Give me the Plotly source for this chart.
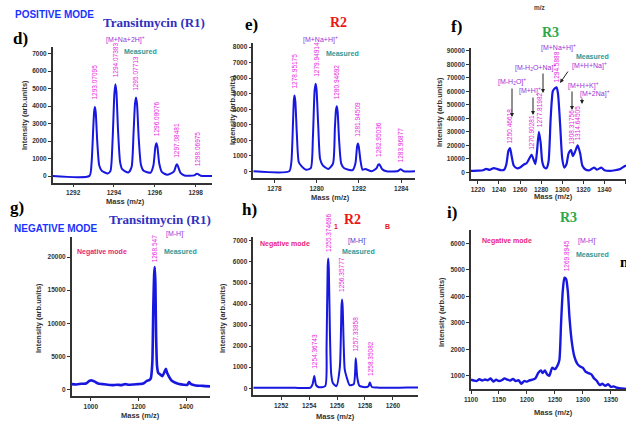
import plotly.graph_objects as go

W, H = 626, 422

# ---------------- data ----------------
# d) positive mode R1
d_mass = [1291.0, 1292.8, 1292.9, 1292.98, 1293.03, 1293.07, 1293.11, 1293.18, 1293.28, 1293.4, 1293.7, 1293.83,
          1293.93, 1294.02, 1294.07, 1294.12, 1294.2, 1294.3, 1294.4, 1294.7, 1294.86, 1294.96, 1295.03, 1295.08,
          1295.13, 1295.21, 1295.32, 1295.45, 1295.8, 1295.93, 1296.03, 1296.08, 1296.13, 1296.22, 1296.35,
          1296.6, 1296.93, 1297.04, 1297.08, 1297.13, 1297.25, 1297.45, 1297.93, 1298.03, 1298.07, 1298.12,
          1298.25, 1298.8]
d_int = [0, 10, 700, 2600, 3700, 3950, 3600, 2000, 600, 300, 150, 300,
         2000, 4700, 5250, 4800, 2600, 800, 400, 200, 500, 2500, 4150, 4500,
         4100, 2200, 650, 300, 200, 600, 1700, 1880, 1650, 700, 220,
         80, 250, 600, 670, 580, 200, 30, 40, 120, 130, 110, 20, 10]
d_peaks = [1293.07095, 1294.07383, 1295.07713, 1296.08076, 1297.08481, 1298.06975]
d_peak_int = [3950, 5250, 4500, 1880, 670, 130]

# e) positive mode R2
e_mass = [1277.0, 1278.7, 1278.8, 1278.88, 1278.92, 1278.95, 1278.99, 1279.06, 1279.15, 1279.27, 1279.5, 1279.72,
          1279.82, 1279.9, 1279.95, 1279.99, 1280.07, 1280.16, 1280.28, 1280.55, 1280.77, 1280.86, 1280.91,
          1280.95, 1280.99, 1281.06, 1281.16, 1281.3, 1281.7, 1281.83, 1281.91, 1281.95, 1281.99, 1282.07,
          1282.17, 1282.3, 1282.6, 1282.83, 1282.91, 1282.95, 1282.99, 1283.1, 1283.3, 1283.85, 1283.93, 1283.97,
          1284.02, 1284.12, 1284.7]
e_int = [0, 0, 600, 3200, 4600, 4890, 4500, 2400, 600, 350, 100, 200,
         2200, 5200, 5650, 5300, 3000, 800, 400, 150, 500, 2800, 3950,
         4200, 3850, 2000, 500, 200, 80, 500, 1600, 1800, 1600, 700,
         100, 150, 0, 200, 420, 450, 400, 130, 0, 20, 110, 130, 100, 0, 0]
e_peaks = [1278.95175, 1279.94914, 1280.94692, 1281.94509, 1282.95036, 1283.96877]
e_peak_int = [4890, 5650, 4200, 1800, 450, 130]

# f) positive mode R3
f_mass = [1213.5, 1220, 1225, 1228, 1231, 1235, 1238, 1242, 1245, 1247, 1249, 1250.5, 1252, 1254, 1257, 1260,
          1264, 1266, 1268, 1270.9, 1273, 1274.5, 1276, 1277.8, 1279.5, 1281, 1283, 1285, 1287, 1289, 1291,
          1292.5, 1294.6, 1296, 1298, 1300, 1302, 1304, 1306, 1308.3, 1310, 1312, 1314.6, 1317, 1319, 1322,
          1326, 1330, 1333, 1337, 1340, 1345, 1350, 1355, 1358, 1360.5]
f_int = [1000, 1200, 1500, 2500, 1800, 3000, 2500, 1500, 2000, 6000, 16000, 18000, 12000, 5000, 3000, 3500,
         6000, 6500, 9000, 13000, 9000, 6000, 15000, 30000, 22000, 8000, 3500, 3000, 8000, 40000, 60000,
         62000, 63000, 58000, 35000, 10000, 3500, 6000, 14000, 16500, 12000, 15000, 20000, 14000, 5000, 2000,
         1500, 3500, 2000, 3500, 1500, 1000, 1500, 2500, 4000, 5000]
f_peaks = [1250.46618, 1270.90281, 1277.81982, 1294.5888, 1308.31756, 1314.64505]
f_peak_int = [18000, 13000, 30000, 63000, 16500, 20000]
f_peak_text = ["1250.46618", "1270.90281", "1277.81982", "1294.5888", "1308.31756", "1314.64505"]

# g) negative mode R1
g_mass = [920, 940, 960, 980, 995, 1005, 1015, 1030, 1050, 1070, 1090, 1110, 1130, 1145, 1160, 1180, 1200,
          1215, 1225, 1235, 1245, 1252, 1258, 1262, 1266, 1268.5, 1271, 1274, 1278, 1283, 1290, 1300, 1310,
          1315, 1320, 1330, 1340, 1355, 1370, 1390, 1405, 1412, 1420, 1440, 1460, 1480, 1500]
g_int = [800, 750, 850, 900, 1300, 1350, 1200, 900, 800, 700, 650, 700, 650, 800, 700, 750, 800,
         850, 1000, 1300, 1400, 1700, 4000, 12000, 17500, 18500, 16000, 8000, 3500, 2500, 2300, 2000, 2700,
         3100, 2500, 1800, 1300, 1000, 800, 700, 700, 1100, 800, 600, 550, 500, 450]

# h) negative mode R2
h_mass = [1250.0, 1251, 1252, 1253, 1254.1, 1254.25, 1254.37, 1254.5, 1254.7, 1255.15, 1255.25, 1255.33, 1255.37,
          1255.41, 1255.49, 1255.58, 1255.7, 1255.95, 1256.2, 1256.32, 1256.36, 1256.4, 1256.47, 1256.55, 1256.7,
          1256.9, 1257.2, 1257.34, 1257.45, 1257.6, 1258.0, 1258.25, 1258.35, 1258.5, 1259, 1260, 1261, 1262]
h_int = [30, 20, 30, 20, 30, 200, 580, 150, 50, 100, 2000, 5800, 6160,
         5700, 2600, 700, 250, 100, 1000, 3900, 4220, 3900, 2200, 900, 500,
         150, 200, 1420, 500, 120, 50, 100, 270, 60, 30, 20, 40, 30]
h_peaks = [1254.36743, 1255.374696, 1256.35777, 1257.33858, 1258.35082]
h_peak_int = [580, 6160, 4220, 1420, 270]
h_peak_text = ["1254.36743", "1255.374696", "1256.35777", "1257.33858", "1258.35082"]

# i) negative mode R3
i_mass = [1100, 1105, 1110, 1115, 1120, 1125, 1130, 1135, 1140, 1145, 1150, 1155, 1160, 1165, 1170, 1175,
          1180, 1185, 1190, 1195, 1200, 1205, 1210, 1215, 1220, 1225, 1228, 1232, 1236, 1240, 1245, 1250,
          1255, 1258, 1261, 1264, 1267, 1270, 1273, 1276, 1280, 1285, 1290, 1295, 1300, 1305, 1310, 1315,
          1320, 1325, 1330, 1335, 1340, 1345, 1350, 1355, 1360, 1370, 1377]
i_int = [850, 820, 800, 870, 820, 860, 830, 900, 780, 850, 800, 830, 900, 850, 820, 880,
         800, 830, 700, 800, 780, 830, 850, 900, 1100, 1200, 1100, 1200, 1050, 1000, 1300, 1250,
         1400, 1600, 3000, 4200, 4700, 4650, 4200, 3200, 2300, 1700, 1450, 1350, 1300, 1150, 1100, 1050,
         900, 800, 650, 700, 620, 680, 580, 600, 550, 520, 500]

# --------------- layout helpers ---------------
def px(x):
    return x / W

def py(y):
    return 1 - y / H

BLUE_LINE = "#1717e0"
AX = "#333333"
MAG = "#e81ee0"
PURP = "#9a32d6"
TEAL = "#2a9a9a"
PINK = "#e8237a"

panels = [
    ("1", d_mass, d_int, [1291.0, 1298.8], [-380, 7400], (52.7, 212), (46.7, 182.7),
     [1292, 1294, 1296, 1298], [0, 1000, 2000, 3000, 4000, 5000, 6000, 7000], 2),
    ("2", e_mass, e_int, [1277.0, 1284.65], [-450, 8250], (253.3, 415), (43.3, 178.3),
     [1278, 1280, 1282, 1284], [0, 1000, 2000, 3000, 4000, 5000, 6000, 7000, 8000], 2),
    ("3", f_mass, f_int, [1213.5, 1360.4], [-5000, 92000], (471, 626), (48.3, 179),
     list(range(1220, 1361, 20)), list(range(0, 90001, 10000)), 2.2),
    ("4", g_mass, g_int, [920, 1500], [-1000, 23000], (71.7, 210), (237.3, 396),
     [1000, 1200, 1400], [0, 5000, 10000, 15000, 20000], 2.6),
    ("5", h_mass, h_int, [1250.0, 1261.8], [-320, 7200], (253.3, 418), (236.7, 395),
     [1252, 1254, 1256, 1258, 1260, 1262], [0, 1000, 2000, 3000, 4000, 5000, 6000, 7000], 2),
    ("6", i_mass, i_int, [1100, 1377], [500, 6500], (471, 626), (230, 389),
     [1100, 1150, 1200, 1250, 1300, 1350], [1000, 2000, 3000, 4000, 5000, 6000], 2.4),
]

fig = go.Figure()
layout = dict(
    width=W, height=H, margin=dict(l=0, r=0, t=0, b=0, autoexpand=False),
    paper_bgcolor="white", plot_bgcolor="white", showlegend=False,
    font=dict(family="Liberation Sans, Arial, sans-serif", color=AX),
)

tickfont = dict(family="Liberation Sans, Arial, sans-serif", size=6.5, color=AX, weight="bold")
for name, xs, ys, xr, yr, xd, yd, xt, yt, lw in panels:
    xa = "x" if name == "1" else "x" + name
    ya = "y" if name == "1" else "y" + name
    fig.add_trace(go.Scatter(x=xs, y=ys, mode="lines", xaxis=xa, yaxis=ya,
                             line=dict(color=BLUE_LINE, width=lw, shape="spline", smoothing=0.6),
                             hoverinfo="skip"))
    kx = "xaxis" if name == "1" else "xaxis" + name
    ky = "yaxis" if name == "1" else "yaxis" + name
    layout[kx] = dict(domain=[px(xd[0]), px(xd[1])], range=xr, anchor=ya,
                      showgrid=False, zeroline=False, showline=True, linecolor=AX, linewidth=1.5,
                      ticks="outside", ticklen=3, tickwidth=1, tickcolor=AX,
                      tickvals=xt, ticktext=[str(v) for v in xt], tickfont=tickfont)
    layout[ky] = dict(domain=[py(yd[1]), py(yd[0])], range=yr, anchor=xa,
                      showgrid=False, zeroline=False, showline=True, linecolor=AX, linewidth=1.5,
                      ticks="outside", ticklen=3, tickwidth=1, tickcolor=AX,
                      tickvals=yt, ticktext=[str(v) for v in yt], tickfont=tickfont)

fig.update_layout(**layout)

ann = []

def text(x, y, t, size=7, color=AX, family="Liberation Sans, Arial, sans-serif", bold=False, xanchor="center",
         angle=0):
    ann.append(dict(x=px(x), y=py(y), xref="paper", yref="paper", text=("<b>%s</b>" % t) if bold else t,
                    showarrow=False, xanchor=xanchor, yanchor="middle", textangle=angle,
                    font=dict(size=size, color=color, family=family)))

SERIF = "Liberation Serif, Times New Roman, serif"

# axis titles
for (xc, yc) in [(125, 202), (330, 197), (553, 196), (140, 415), (335, 416), (553, 412)]:
    text(xc, yc, "Mass (m/z)", size=7.5, bold=True)
text(25, 115, "Intensity (arb.units)", size=7.5, bold=True, angle=-90)
text(232, 110, "Intensity (arb.units)", size=7.5, bold=True, angle=-90)
text(439, 112, "Intenisty (arb.units)", size=7.5, bold=True, angle=-90)
text(38, 318, "Intensity (arb.units)", size=7.5, bold=True, angle=-90)
text(222, 318, "Intensity (arb.units)", size=7.5, bold=True, angle=-90)
text(441, 312, "Intensity (arb.units)", size=7.5, bold=True, angle=-90)

# headings
text(13, 15, "POSITIVE MODE", size=10, color="#1a33ff", bold=True, xanchor="left")
text(154, 23, "Transitmycin (R1)", size=13, color="#3030c0", family=SERIF, bold=True)
text(20, 38, "d)", size=17, color="black", family=SERIF, bold=True)
text(125, 39, "[M+Na+2H]<sup>+</sup>", size=7, color=PURP)
text(140, 52, "Measured", size=7, color=TEAL, bold=True)

text(251, 24, "e)", size=17, color="black", family=SERIF, bold=True)
text(338, 23, "R2", size=14, color="#ee1515", family=SERIF, bold=True)
text(320, 40, "[M+Na+H]<sup>+</sup>", size=7, color=PURP)
text(342, 53, "Measured", size=7, color=TEAL, bold=True)

text(456, 27, "f)", size=17, color="black", family=SERIF, bold=True)
text(550, 32, "R3", size=14, color="#2aa84a", family=SERIF, bold=True)
text(540, 8, "m/z", size=6.5, color="#444444", bold=True)
text(558, 48, "[M+Na+H]<sup>+</sup>", size=7, color=PURP)
text(592, 56, "Measured", size=7, color=TEAL, bold=True)
text(512, 81, "[M-H<sub>2</sub>O]<sup>+</sup>", size=7, color=PURP)
text(530, 91, "[M+H]<sup>+</sup>", size=7, color=PURP)
text(535, 67, "[M-H<sub>2</sub>O+Na]<sup>+</sup>", size=7, color=PURP)
text(589, 66, "[M+H+Na]<sup>+</sup>", size=7, color=PURP)
text(583, 85, "[M+H+K]<sup>+</sup>", size=7, color=PURP)
text(595, 94, "[M+2Na]<sup>+</sup>", size=7, color=PURP)

text(17, 207, "g)", size=17, color="black", family=SERIF, bold=True)
text(12, 228, "NEGATIVE MODE", size=10, color="#1a33ff", bold=True, xanchor="left")
text(160, 219, "Transitmycin (R1)", size=13, color="#3030c0", family=SERIF, bold=True)
text(175, 234, "[M-H]<sup>-</sup>", size=7, color=PURP)
text(102, 252, "Negative mode", size=7, color=PINK, bold=True)
text(180, 252, "Measured", size=7, color=TEAL, bold=True)

text(249, 210, "h)", size=17, color="black", family=SERIF, bold=True)
text(352, 219, "R2", size=14, color="#ee1515", family=SERIF, bold=True)
text(336, 227, "1", size=7, color="#ee1515", bold=True)
text(388, 226, "B", size=7, color="#ee1515", bold=True)
text(285, 244, "Negative mode", size=7, color=PINK, bold=True)
text(357, 240, "[M-H]<sup>-</sup>", size=7, color="#3a3ad0")
text(358, 251, "Measured", size=7, color=TEAL, bold=True)

text(452, 212, "i)", size=17, color="black", family=SERIF, bold=True)
text(568, 217, "R3", size=14, color="#2aa84a", family=SERIF, bold=True)
text(507, 241, "Negative mode", size=7, color=PINK, bold=True)
text(587, 241, "[M-H]<sup>-</sup>", size=7, color=PURP)
text(592, 254, "Measured", size=7, color=TEAL, bold=True)
text(624, 262, "n", size=15, color="black", family=SERIF, bold=True)

# peak labels (rotated)
def peak_labels(xref, yref, xs, ys, labels, shift=5):
    for xv, yv, lab in zip(xs, ys, labels):
        ann.append(dict(x=xv, y=yv, xref=xref, yref=yref, text=lab, showarrow=False,
                        textangle=-90, xanchor="center", yanchor="bottom", yshift=shift,
                        font=dict(size=6.5, color=MAG, family="Liberation Sans, Arial, sans-serif")))

peak_labels("x", "y", d_peaks, d_peak_int, ["%.5f" % v for v in d_peaks])
peak_labels("x2", "y2", e_peaks, e_peak_int, ["%.5f" % v for v in e_peaks])
peak_labels("x3", "y3", f_peaks, f_peak_int, f_peak_text, shift=3)
peak_labels("x4", "y4", [1268.547], [18500], ["1268.547"], shift=3)
peak_labels("x5", "y5", h_peaks, h_peak_int, h_peak_text)
peak_labels("x6", "y6", [1269.8945], [4700], ["1269.8945"], shift=4)

# arrows in panel f
for hx, hy, tx, ty in [(512, 117, 512, 87), (533, 115, 533, 96), (543, 93, 543, 72),
                       (560, 83, 569, 70), (572, 110, 572, 90), (582, 104, 582, 97)]:
    ann.append(dict(x=px(hx), y=py(hy), xref="paper", yref="paper", ax=tx - hx, ay=ty - hy,
                    axref="pixel", ayref="pixel", text="", showarrow=True, arrowhead=2, arrowsize=0.8,
                    arrowwidth=1, arrowcolor="#222222"))

fig.update_layout(annotations=ann)
fig.write_html("out.html", config={"displayModeBar": False},
               post_script="document.body.style.margin='0';document.body.style.overflow='hidden';")
